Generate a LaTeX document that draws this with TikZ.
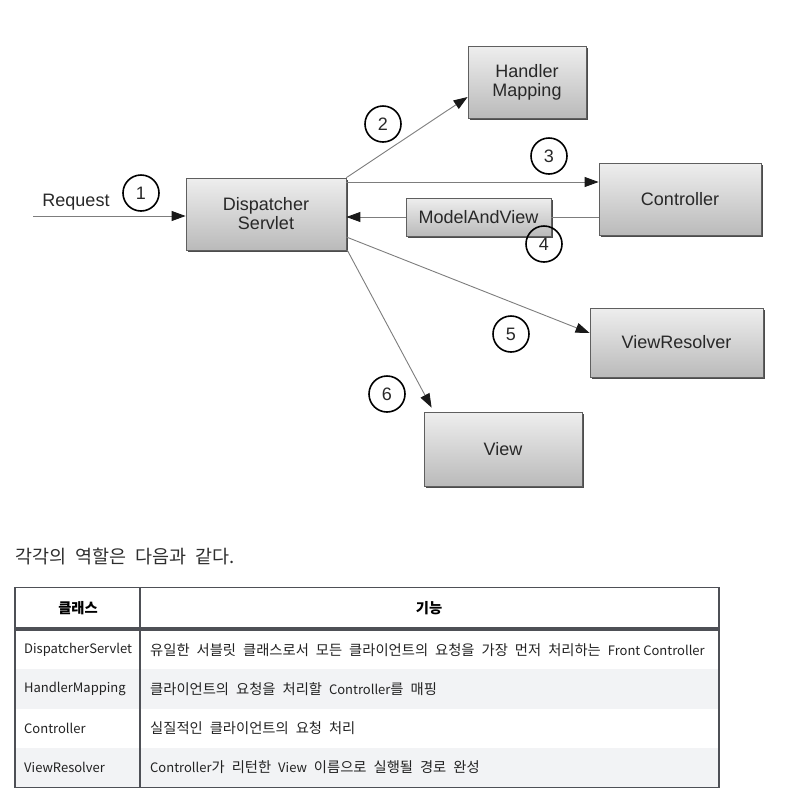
\documentclass[tikz,border=0pt]{standalone}
\usepackage{fontspec}
\setmainfont{Liberation Sans}
\newfontfamily\krfont{Noto Sans CJK KR}
\newcommand{\latn}[1]{{\spaceskip=0pt\relax\fontsize{13}{15}\selectfont #1}}
\newcommand{\kspacing}{\spaceskip=7pt plus 1pt minus 1pt\relax}
\newcommand{\capspacing}{\spaceskip=9pt plus 1pt minus 1pt\relax}
\usetikzlibrary{arrows.meta,shadows,calc}
\definecolor{boxtop}{RGB}{238,238,238}
\definecolor{boxbot}{RGB}{186,186,186}
\definecolor{boxedge}{RGB}{95,95,95}
\definecolor{linegray}{RGB}{125,125,125}
\definecolor{tabline}{RGB}{78,80,86}
\definecolor{rowgray}{RGB}{242,243,245}
\definecolor{txt}{RGB}{40,40,40}
\definecolor{ktxt}{RGB}{34,34,34}
\tikzset{
  box/.style={draw=boxedge, line width=0.8pt, top color=boxtop, bottom color=boxbot,
    drop shadow={shadow xshift=2pt, shadow yshift=-2pt, fill=black!70, opacity=1},
    font=\fontsize{18}{19}\selectfont, text=txt, align=center, inner sep=0pt},
  circnum/.style={circle, draw=black, line width=1.6pt, minimum size=36pt, inner sep=0pt,
    font=\fontsize{18}{18}\selectfont, text=txt},
  conn/.style={draw=linegray, line width=0.9pt},
  arr/.style={conn, -{Triangle[length=14pt,width=10pt,color=black!90]}},
  ktext/.style={font=\krfont\fontsize{14.3}{16}\selectfont\kspacing, text=ktxt, anchor=west, inner sep=0pt},
  ltext/.style={font=\krfont\fontsize{13}{15}\selectfont, text=ktxt, anchor=west, inner sep=0pt},
  khead/.style={font=\krfont\bfseries\fontsize{14.3}{16}\selectfont, text=black, inner sep=0pt},
}
\begin{document}
\begin{tikzpicture}[x=1pt,y=-1pt]
\useasboundingbox (0,0) rectangle (789,801);
% boxes
\node[box, minimum width=160pt, minimum height=72pt] (ds) at (266,214) {Dispatcher\\Servlet};
\node[box, minimum width=118pt, minimum height=72pt] (hm) at (527,82) {Handler\\Mapping};
\node[box, minimum width=162pt, minimum height=72pt] (ctrl) at (680,199) {Controller};
\node[box, minimum width=145pt, minimum height=38pt] (mav) at (478.5,217) {ModelAndView};
\node[box, minimum width=173pt, minimum height=69pt] (vr) at (676.5,342.5) {ViewResolver};
\node[box, minimum width=158pt, minimum height=74pt] (view) at (503,449) {View};
% request
\node[font=\fontsize{18}{19}\selectfont, text=txt, inner sep=0pt] (req) at (76,202) {Request};
\coordinate (reqstart) at (33,216);
\draw[arr] (reqstart) -- (reqstart -| ds.west);
% connectors
\draw[arr] (ds.north east) -- ([yshift=-15pt]hm.west);
\draw[arr] ([yshift=17pt]ctrl.west -| ds.east) -- ([yshift=17pt]ctrl.west);
\draw[conn] (ctrl.west |- mav.east) -- (mav.east);
\draw[arr] (mav.west) -- (mav.west -| ds.east);
\draw[arr] ([yshift=-23pt]ds.east) -- ([yshift=9.5pt]vr.west);
\draw[arr] ([xshift=1pt]ds.south east) -- ([xshift=8pt,yshift=4pt]view.north west);
% numbers
\node[circnum] (n1) at (141,193) {1};
\node[circnum] (n2) at (383,124) {2};
\node[circnum] (n3) at (549,156) {3};
\node[circnum] (n4) at (544,244) {4};
\node[circnum] (n5) at (511,334) {5};
\node[circnum] (n6) at (387,394) {6};
% caption
\node[font=\krfont\fontsize{18.5}{21}\selectfont\capspacing, text=black!82, anchor=west, inner sep=0pt] (cap) at (15,556) {각각의 역할은 다음과 같다.};
% table
\fill[rowgray] (15,669.3) rectangle (719,709);
\fill[rowgray] (15,747.7) rectangle (719,787.3);
\draw[tabline, line width=4pt] (15,628.7) -- (719,628.7);
\draw[tabline, line width=1.1pt] (15,587.3) rectangle (719,787.3);
\draw[tabline, line width=1.1pt] (140,587.3) -- (140,787.3);
\node[khead] (h1) at (78,608) {클래스};
\node[khead] (h2) at (429,608) {기능};
\node[ltext] (a1) at (24,650) {DispatcherServlet};
\node[ktext] (b1) at (150,650) {유일한 서블릿 클래스로서 모든 클라이언트의 요청을 가장 먼저 처리하는 \latn{Front Controller}};
\node[ltext] (a2) at (24,689) {HandlerMapping};
\node[ktext] (b2) at (150,689) {클라이언트의 요청을 처리할 \latn{Controller}를 매핑};
\node[ltext] (a3) at (24,728) {Controller};
\node[ktext] (b3) at (150,728) {실질적인 클라이언트의 요청 처리};
\node[ltext] (a4) at (24,767) {ViewResolver};
\node[ktext] (b4) at (150,767) {\latn{Controller}가 리턴한 \latn{View} 이름으로 실행될 경로 완성};
\end{tikzpicture}
\end{document}
